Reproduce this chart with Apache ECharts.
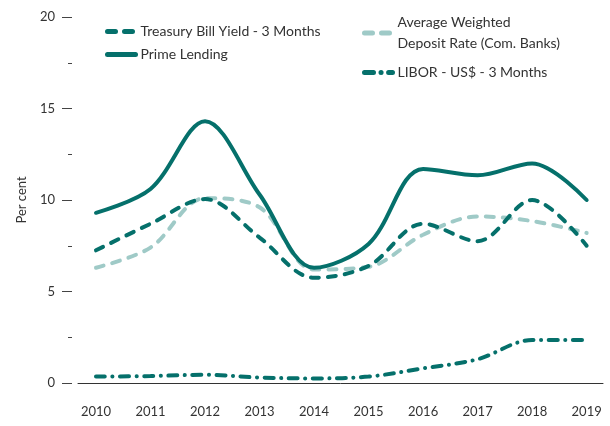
<!DOCTYPE html>
<html style="height: 100%">
<head>
    <meta charset="utf-8">
    <script type="text/javascript" src="https://cdn.jsdelivr.net/npm/echarts@6/dist/echarts.min.js"></script>
</head>
<body style="height: 100%; margin: 0; background: #fff">
<div id="container" style="width: 610px; height: 426px"></div>
<script type="text/javascript">
    var years = [2010, 2011, 2012, 2013, 2014, 2015, 2016, 2017, 2018, 2019];
    var treasury = [7.25, 8.7, 10.05, 7.95, 5.75, 6.4, 8.7, 7.75, 10.0, 7.5];
    var prime = [9.3, 10.6, 14.3, 10.3, 6.3, 7.6, 11.7, 11.35, 12.0, 10.0];
    var deposit = [6.3, 7.4, 10.1, 9.6, 6.2, 6.35, 8.1, 9.1, 8.85, 8.2];
    var libor = [0.35, 0.38, 0.45, 0.3, 0.25, 0.35, 0.8, 1.3, 2.35, 2.35];

    var dark = '#05706b';
    var light = '#9fcac7';

    function pairs(vals) {
        return years.map(function (y, i) { return [y, vals[i]]; });
    }

    var dom = document.getElementById("container");
    var myChart = echarts.init(dom);
    var font = 'Lato, "Open Sans", sans-serif';
    var legendText = { fontSize: 14, color: '#333', fontFamily: font, lineHeight: 21 };
    var sm = 0.34;

    var option = {
        animation: false,
        textStyle: { fontFamily: font },
        grid: { left: 78, right: 7, top: 17, bottom: 43 },
        legend: [{
            orient: 'vertical',
            left: 100,
            top: 16,
            itemWidth: 28,
            itemHeight: 14,
            itemGap: 2,
            itemStyle: { opacity: 0 },
            lineStyle: { width: 5, cap: 'round' },
            data: ['Treasury Bill Yield - 3 Months', 'Prime Lending'],
            textStyle: legendText
        }, {
            orient: 'vertical',
            left: 357,
            top: 7,
            itemWidth: 28,
            itemHeight: 14,
            itemGap: 8,
            itemStyle: { opacity: 0 },
            lineStyle: { width: 5, cap: 'round' },
            data: ['Average Weighted Deposit Rate (Com. Banks)', 'LIBOR - US$ - 3 Months'],
            formatter: function (n) {
                return n.replace('Weighted ', 'Weighted\n');
            },
            textStyle: legendText
        }],
        xAxis: {
            type: 'value',
            min: 2009.67,
            max: 2019.3,
            splitLine: { show: false },
            axisLine: { show: true, lineStyle: { color: '#333', width: 1 } },
            axisTick: { show: false },
            axisLabel: {
                customValues: years,
                color: '#333',
                fontSize: 13,
                margin: 22,
                fontFamily: font,
                formatter: function (v) { return String(v); }
            }
        },
        yAxis: {
            type: 'value',
            min: 0,
            max: 20,
            interval: 5,
            offset: 6,
            name: 'Per cent',
            nameLocation: 'middle',
            nameGap: 44,
            nameTextStyle: { color: '#333', fontSize: 13, fontFamily: font },
            splitLine: { show: false },
            axisLine: { show: false },
            axisTick: { show: true, length: 10, lineStyle: { color: '#444' } },
            minorTick: { show: true, splitNumber: 2, length: 4, lineStyle: { color: '#444' } },
            axisLabel: { color: '#333', fontSize: 13, margin: 17, fontFamily: font }
        },
        series: [{
            name: 'Treasury Bill Yield - 3 Months',
            type: 'line',
            smooth: sm,
            smoothConstraint: false,
            symbol: 'none',
            data: pairs(treasury),
            itemStyle: { color: dark },
            lineStyle: { color: dark, width: 4, type: [8, 9], cap: 'round' },
            z: 3
        }, {
            name: 'Prime Lending',
            type: 'line',
            smooth: sm,
            smoothConstraint: false,
            symbol: 'none',
            data: pairs(prime),
            itemStyle: { color: dark },
            lineStyle: { color: dark, width: 4, cap: 'round' },
            z: 4
        }, {
            name: 'Average Weighted Deposit Rate (Com. Banks)',
            type: 'line',
            smooth: sm,
            smoothConstraint: false,
            symbol: 'none',
            data: pairs(deposit),
            itemStyle: { color: light },
            lineStyle: { color: light, width: 4, type: [8, 9], cap: 'round' },
            z: 2
        }, {
            name: 'LIBOR - US$ - 3 Months',
            type: 'line',
            smooth: sm,
            smoothConstraint: false,
            symbol: 'none',
            data: pairs(libor),
            itemStyle: { color: dark },
            lineStyle: { color: dark, width: 4, type: [9, 7.5, 0.1, 7.5], cap: 'round' },
            z: 3
        }]
    };
    myChart.setOption(option);
</script>
</body>
</html>
